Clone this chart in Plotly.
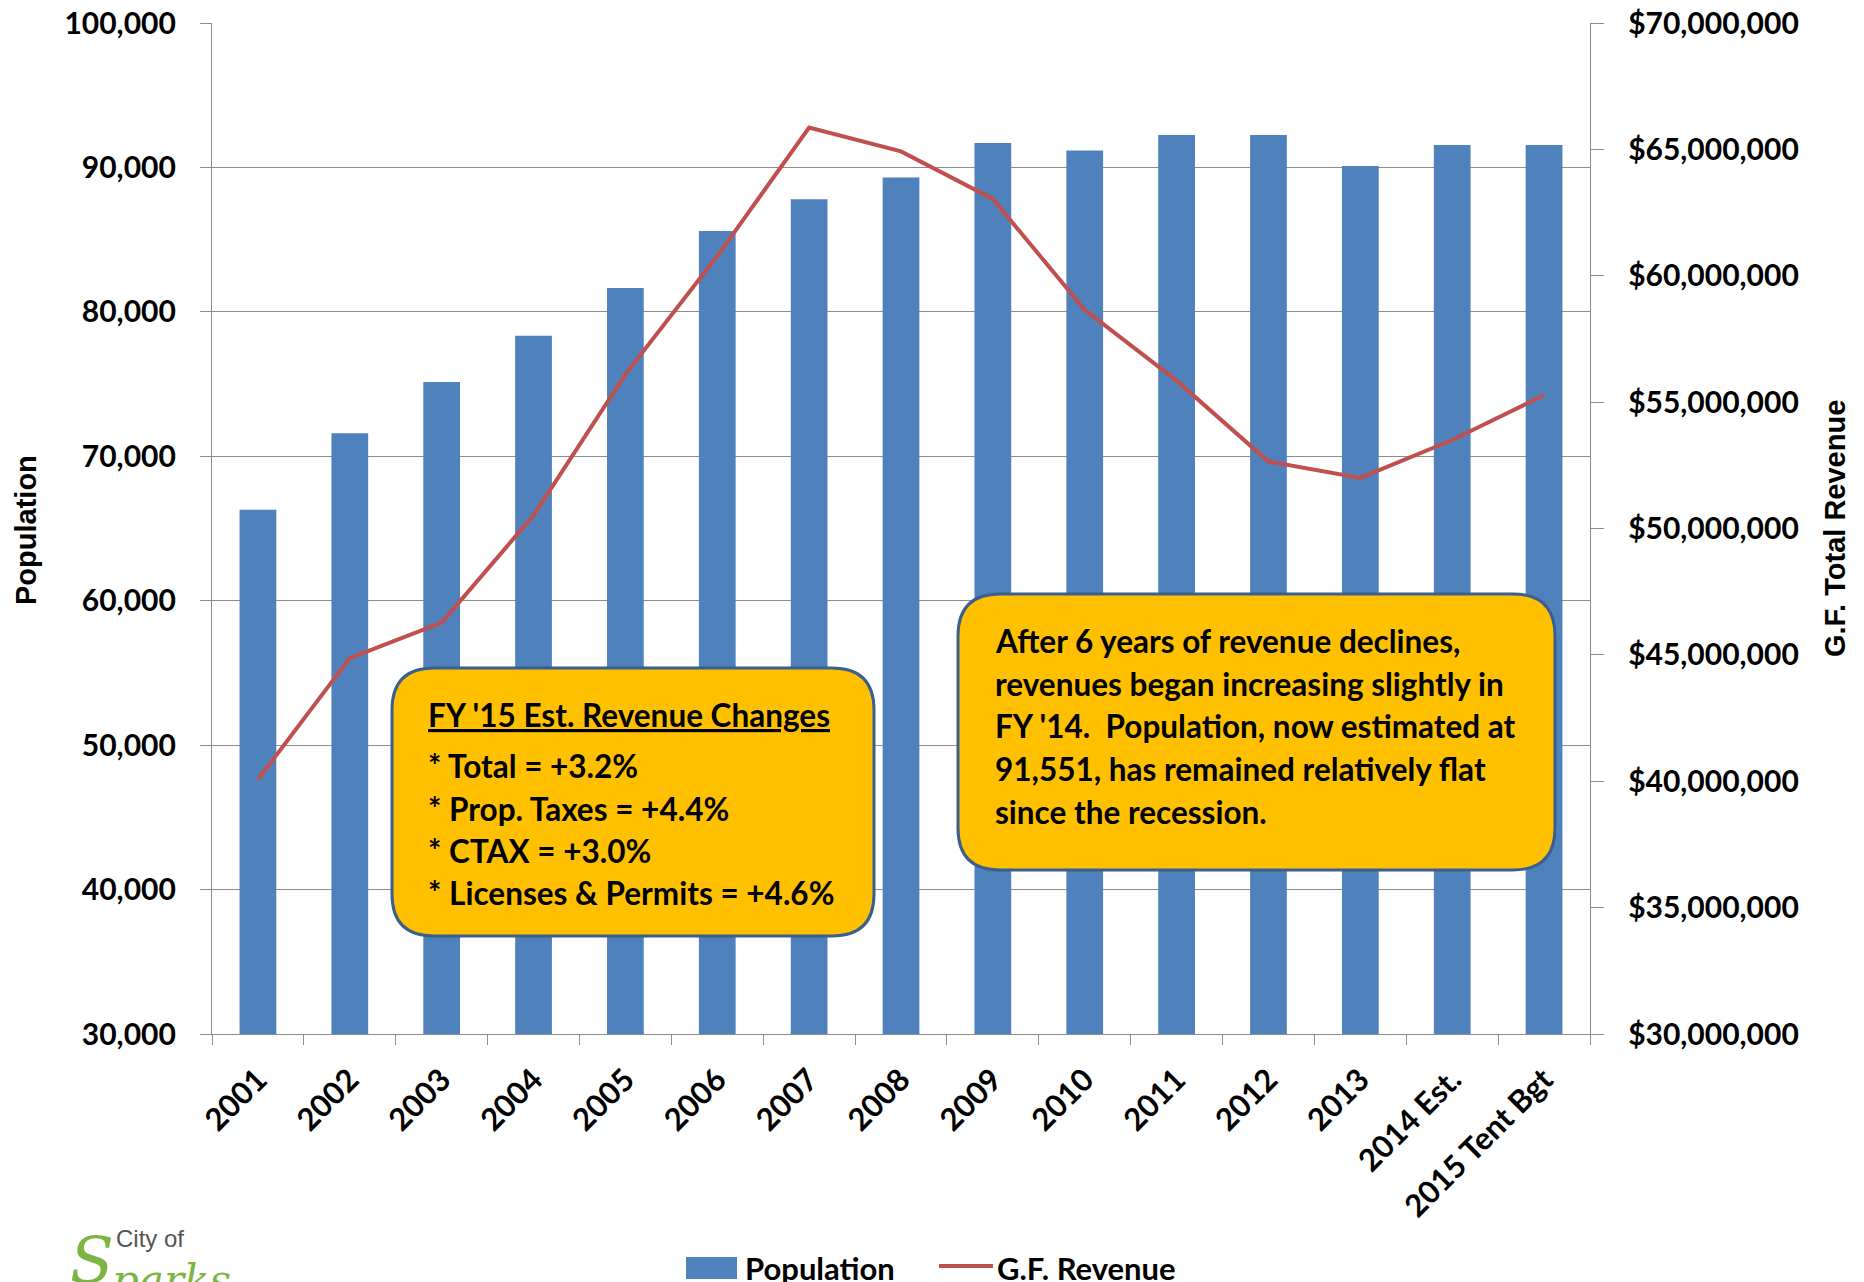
import plotly.graph_objects as go

# Fiscal years shown on the category axis
years = ["2001", "2002", "2003", "2004", "2005", "2006", "2007", "2008",
         "2009", "2010", "2011", "2012", "2013", "2014 Est.", "2015 Tent Bgt"]

# City population (left axis)
population = [66300, 71600, 75150, 78350, 81650, 85600, 87800, 89300,
              91700, 91180, 92240, 92240, 90100, 91551, 91551]

# General Fund total revenue in dollars (right axis)
gf_revenue = [40070000, 44870000, 46280000, 50520000, 56100000, 60780000,
              65860000, 64920000, 63040000, 58650000, 55850000, 52650000,
              52000000, 53500000, 55280000]

box1_lines = ["<u>FY '15 Est. Revenue Changes</u>",
              "* Total = +3.2%",
              "* Prop. Taxes = +4.4%",
              "* CTAX = +3.0%",
              "* Licenses & Permits = +4.6%"]

box2_lines = ["After 6 years of revenue declines,",
              "revenues began increasing slightly in",
              "FY '14.  Population, now estimated at",
              "91,551, has remained relatively flat",
              "since the recession."]

W, H = 1864, 1282
PL, PR, PT, PB = 212, 1590, 23, 1034  # plot area in pixels

BLUE = "#4F81BD"
RED = "#C0504D"
GOLD = "#FFC000"
EDGE = "#3A5F8F"
GRID = "#8C8C8C"
FONT = "Lato"


def px(x):
    return (x - PL) / (PR - PL)


def py(y):
    return (PB - y) / (PB - PT)


def rounded_box(x0, y0, x1, y1, r):
    pts = [
        ("M", [(x0 + r, y0)]), ("L", [(x1 - r, y0)]), ("Q", [(x1, y0), (x1, y0 + r)]),
        ("L", [(x1, y1 - r)]), ("Q", [(x1, y1), (x1 - r, y1)]),
        ("L", [(x0 + r, y1)]), ("Q", [(x0, y1), (x0, y1 - r)]),
        ("L", [(x0, y0 + r)]), ("Q", [(x0, y0), (x0 + r, y0)]),
    ]
    parts = []
    for cmd, coords in pts:
        parts.append(cmd + " " + " ".join(f"{px(a):.5f},{py(b):.5f}" for a, b in coords))
    return " ".join(parts) + " Z"


fig = go.Figure()

fig.add_trace(go.Bar(
    x=years, y=population, name="Population",
    marker=dict(color=BLUE, line=dict(width=0)),
    width=0.4, yaxis="y", showlegend=False,
))

fig.add_trace(go.Scatter(
    x=years, y=gf_revenue, name="G.F. Revenue", mode="lines",
    line=dict(color=RED, width=4), yaxis="y2", showlegend=False,
))

tick_font = dict(family=FONT, size=30, color="black", weight="bold")

fig.update_layout(
    width=W, height=H,
    margin=dict(l=PL, r=W - PR, t=PT, b=H - PB, autoexpand=False),
    paper_bgcolor="white", plot_bgcolor="white",
    xaxis=dict(
        type="category", tickangle=-45,
        tickfont=dict(family=FONT, size=31, color="black", weight="bold"),
        showline=True, linecolor=GRID, linewidth=1.3, automargin=False,
        ticks="outside", tickson="boundaries", ticklen=10, tickcolor=GRID,
        ticklabelstandoff=14, showgrid=False, range=[-0.5, 14.5],
    ),
    yaxis=dict(
        range=[30000, 100000], dtick=10000, tickformat=",",
        tickfont=tick_font, showgrid=True, gridcolor=GRID, gridwidth=1.3,
        showline=True, linecolor=GRID, linewidth=1.3, automargin=False,
        ticks="outside", ticklen=11, tickcolor=GRID, ticklabelstandoff=18,
        zeroline=False,
    ),
    yaxis2=dict(
        range=[30000000, 70000000], dtick=5000000, tickformat="$,.0f",
        tickfont=tick_font, overlaying="y", side="right", showgrid=False,
        showline=True, linecolor=GRID, linewidth=1.3, automargin=False,
        ticks="outside", ticklen=13, tickcolor=GRID, ticklabelstandoff=18,
        zeroline=False,
    ),
)

shapes = [
    dict(type="path", xref="paper", yref="paper", layer="above",
         path=rounded_box(392, 668, 874, 936, 42),
         fillcolor=GOLD, line=dict(color=EDGE, width=3)),
    dict(type="path", xref="paper", yref="paper", layer="above",
         path=rounded_box(958, 594, 1555, 870, 42),
         fillcolor=GOLD, line=dict(color=EDGE, width=3)),
    # legend keys
    dict(type="rect", xref="paper", yref="paper",
         x0=px(686), x1=px(737), y0=py(1279), y1=py(1257),
         fillcolor=BLUE, line=dict(width=0)),
    dict(type="line", xref="paper", yref="paper",
         x0=px(939), x1=px(993), y0=py(1266), y1=py(1266),
         line=dict(color=RED, width=4)),
]

box_font = dict(family=FONT, size=31.5, color="black", weight="bold")

annotations = []
box1_y = [715, 766, 809, 851, 893]
for txt, y in zip(box1_lines, box1_y):
    annotations.append(dict(
        text=txt, xref="paper", yref="paper", x=px(426), y=py(y),
        xanchor="left", yanchor="middle", showarrow=False, font=box_font,
    ))

box2_y = [641, 684, 726, 769, 812]
for txt, y in zip(box2_lines, box2_y):
    annotations.append(dict(
        text=txt, xref="paper", yref="paper", x=px(993), y=py(y),
        xanchor="left", yanchor="middle", showarrow=False, font=box_font,
    ))

title_font = dict(family="Liberation Sans", size=29, color="black", weight="bold")
legend_font = dict(family=FONT, size=31, color="black", weight="bold")
annotations += [
    dict(text="Population", xref="paper", yref="paper", x=px(26), y=py(530),
         textangle=-90, showarrow=False, xanchor="center", yanchor="middle",
         font=title_font),
    dict(text="G.F. Total Revenue", xref="paper", yref="paper", x=px(1835), y=py(529),
         textangle=-90, showarrow=False, xanchor="center", yanchor="middle",
         font=title_font),
    # legend labels
    dict(text="Population", xref="paper", yref="paper", x=px(743), y=py(1268),
         xanchor="left", yanchor="middle", showarrow=False, font=legend_font),
    dict(text="G.F. Revenue", xref="paper", yref="paper", x=px(995), y=py(1268),
         xanchor="left", yanchor="middle", showarrow=False, font=legend_font),
    # city wordmark: small "City of" beside a large swash S, rest of the word below
    dict(text="City of", xref="paper", yref="paper", x=px(114), y=py(1238),
         xanchor="left", yanchor="middle", showarrow=False,
         font=dict(family="Liberation Sans Narrow, Liberation Sans", size=24, color="#555555")),
    dict(text="<i>S</i>", xref="paper", yref="paper", x=px(68), y=py(1222),
         xanchor="left", yanchor="top", showarrow=False,
         font=dict(family="DejaVu Serif", size=64, color="#7DB544")),
    dict(text="<i>parks</i>", xref="paper", yref="paper", x=px(110), y=py(1254),
         xanchor="left", yanchor="top", showarrow=False,
         font=dict(family="DejaVu Serif", size=42, color="#7DB544")),
]

fig.update_layout(shapes=shapes, annotations=annotations)

fig.write_html("out.html")
